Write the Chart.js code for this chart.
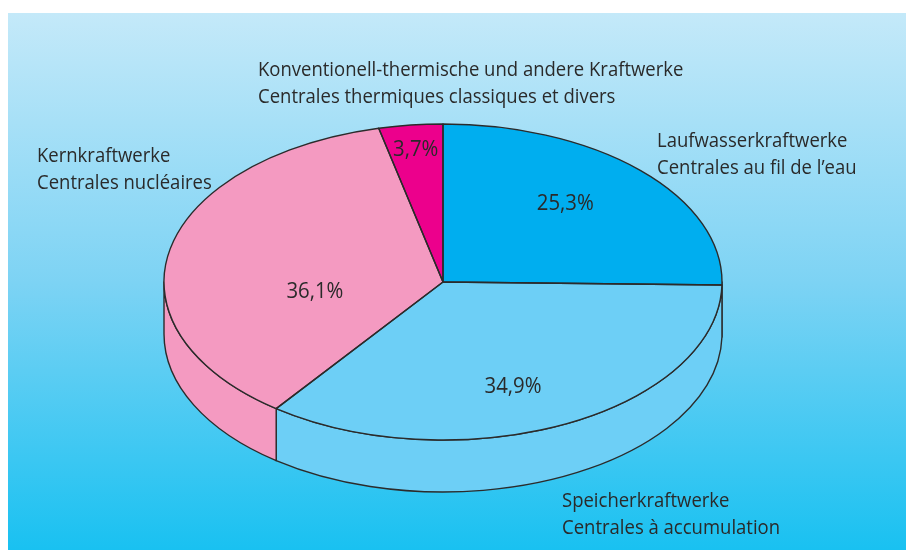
<!DOCTYPE html>
<html>
<head>
<meta charset="utf-8">
<script src="https://cdn.jsdelivr.net/npm/chart.js@4.4.1/dist/chart.umd.min.js"></script>
<style>
  html, body { margin: 0; padding: 0; background: #ffffff; }
  #wrap { width: 906px; height: 550px; position: relative; }
  canvas { display: block; }
</style>
</head>
<body>
<div id="wrap"><canvas id="c" width="906" height="550"></canvas></div>
<script>
// ---- data ----
const categoriesDe = ['Laufwasserkraftwerke', 'Speicherkraftwerke', 'Kernkraftwerke', 'Konventionell-thermische und andere Kraftwerke'];
const categoriesFr = ['Centrales au fil de l\u2019eau', 'Centrales \u00e0 accumulation', 'Centrales nucl\u00e9aires', 'Centrales thermiques classiques et divers'];
const shares = [25.3, 34.9, 36.1, 3.7];

// ---- style ----
const sliceColors = ['#00AEEF', '#6DCFF6', '#F49AC1', '#EC008C'];
const outlineColor = '#2b2b2b';
const textColor = '#2a2a2a';
const RADIUS = 279;          // horizontal radius of the pie (px)
const TILT = 0.5663;         // vertical squash of the pie
const DEPTH = 52;            // thickness of the 3D side (px)
const CONDENSE = 0.925;      // horizontal condensing of the type
const FONT = '"Open Sans", "Noto Sans", sans-serif';

// label anchors (layout): x, first baseline
const nameAnchors = [
  {x: 657, y: 147},
  {x: 562, y: 507},
  {x: 37,  y: 162},
  {x: 258, y: 76}
];
const LINE_H = 26.5;
// percentage label placement: radial fraction and angular shift (deg) from slice mid angle
const pctPlacement = [
  {r: 0.662, shift: -4.1},
  {r: 0.710, shift: 5.4},
  {r: 0.463, shift: -19.2},
  {r: 0.844, shift: 0}
];

function fmtPct(v) { return v.toFixed(1).replace('.', ',') + '%'; }

const pie3d = {
  id: 'pie3d',
  beforeDraw(chart) {
    const ctx = chart.ctx;
    ctx.save();
    ctx.fillStyle = '#ffffff';
    ctx.fillRect(0, 0, chart.width, chart.height);
    const g = ctx.createLinearGradient(0, 13, 0, 550);
    g.addColorStop(0, '#C4E9F9');
    g.addColorStop(0.5, '#7DD3F4');
    g.addColorStop(1, '#19C1F1');
    ctx.fillStyle = g;
    ctx.fillRect(8, 13, chart.width - 8, chart.height - 13);
    ctx.restore();
  },
  beforeDatasetsDraw(chart) {
    const ctx = chart.ctx;
    const arcs = chart.getDatasetMeta(0).data;
    if (!arcs.length) return;
    const cx = arcs[0].x, cy = arcs[0].y;
    // side walls (front half only)
    ctx.save();
    ctx.lineWidth = 1.4;
    ctx.strokeStyle = outlineColor;
    ctx.lineJoin = 'round';
    arcs.forEach((a, i) => {
      const R = a.outerRadius, Ry = R * TILT;
      const a0 = Math.max(a.startAngle, 0);
      const a1 = Math.min(a.endAngle, Math.PI);
      if (a1 <= a0) return;
      ctx.beginPath();
      ctx.ellipse(cx, cy, R, Ry, 0, a0, a1);
      ctx.lineTo(cx + R * Math.cos(a1), cy + Ry * Math.sin(a1) + DEPTH);
      ctx.ellipse(cx, cy + DEPTH, R, Ry, 0, a1, a0, true);
      ctx.closePath();
      ctx.fillStyle = a.options.backgroundColor;
      ctx.fill();
      ctx.stroke();
    });
    ctx.restore();
    // squash the top face
    ctx.save();
    ctx.translate(cx, cy);
    ctx.scale(1, TILT);
    ctx.translate(-cx, -cy);
  },
  afterDatasetsDraw(chart) {
    const ctx = chart.ctx;
    ctx.restore();
    const arcs = chart.getDatasetMeta(0).data;
    if (!arcs.length) return;
    const cx = arcs[0].x, cy = arcs[0].y;
    ctx.save();
    ctx.lineWidth = 1.4;
    ctx.strokeStyle = outlineColor;
    ctx.lineJoin = 'round';
    arcs.forEach((a) => {
      const R = a.outerRadius, Ry = R * TILT;
      ctx.beginPath();
      ctx.moveTo(cx, cy);
      ctx.ellipse(cx, cy, R, Ry, 0, a.startAngle, a.endAngle);
      ctx.closePath();
      ctx.stroke();
    });
    ctx.restore();
  },
  afterDraw(chart) {
    const ctx = chart.ctx;
    const arcs = chart.getDatasetMeta(0).data;
    if (!arcs.length) return;
    const cx = arcs[0].x, cy = arcs[0].y;
    ctx.save();
    ctx.fillStyle = textColor;
    // percentages
    ctx.font = '22px ' + FONT;
    ctx.textAlign = 'center';
    ctx.textBaseline = 'middle';
    arcs.forEach((a, i) => {
      const p = pctPlacement[i];
      const mid = (a.startAngle + a.endAngle) / 2 + p.shift * Math.PI / 180;
      const R = a.outerRadius * p.r;
      const x = cx + R * Math.cos(mid);
      const y = cy + R * TILT * Math.sin(mid);
      ctx.save();
      ctx.translate(x, y);
      ctx.scale(CONDENSE, 1);
      ctx.fillText(fmtPct(shares[i]), 0, 0);
      ctx.restore();
    });
    // category names (German / French)
    ctx.font = '20px ' + FONT;
    ctx.textAlign = 'left';
    ctx.textBaseline = 'alphabetic';
    categoriesDe.forEach((name, i) => {
      const an = nameAnchors[i];
      [name, categoriesFr[i]].forEach((line, j) => {
        ctx.save();
        ctx.translate(an.x, an.y + j * LINE_H);
        ctx.scale(CONDENSE, 1);
        ctx.fillText(line, 0, 0);
        ctx.restore();
      });
    });
    ctx.restore();
  }
};

new Chart(document.getElementById('c'), {
  type: 'pie',
  data: {
    labels: categoriesDe,
    datasets: [{
      data: shares,
      backgroundColor: sliceColors,
      borderWidth: 0,
      radius: RADIUS,
      clip: false
    }]
  },
  options: {
    responsive: false,
    animation: false,
    events: [],
    layout: { padding: { left: 0, right: 20, top: 14, bottom: 0 } },
    plugins: {
      legend: { display: false },
      tooltip: { enabled: false },
      title: { display: false }
    }
  },
  plugins: [pie3d]
});
</script>
</body>
</html>
